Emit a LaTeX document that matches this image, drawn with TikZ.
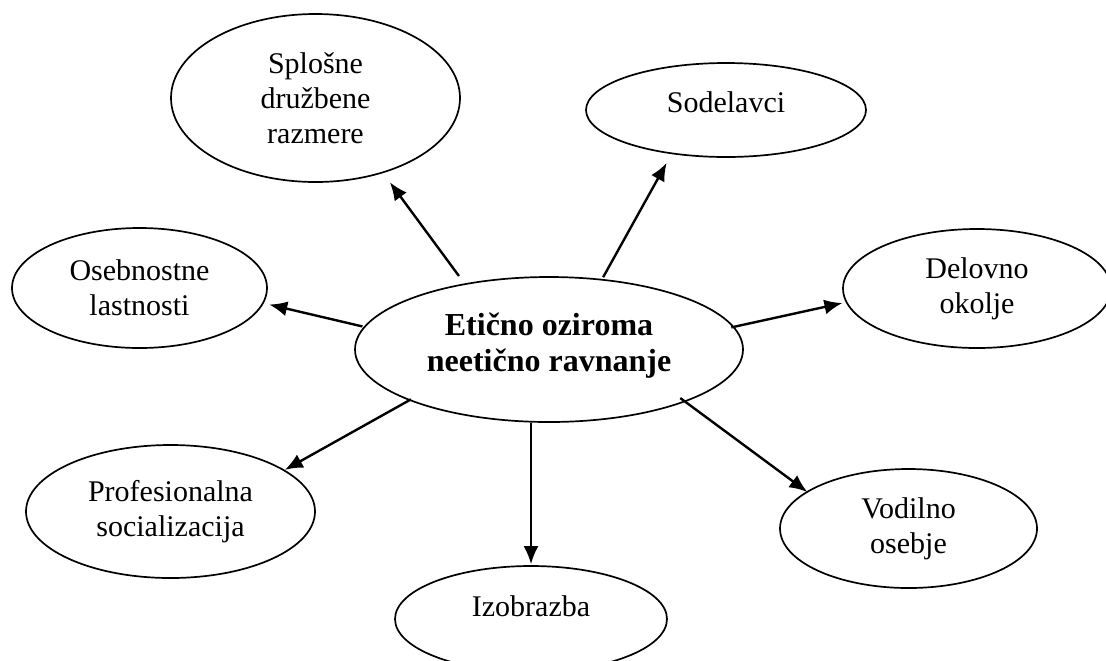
\documentclass[tikz,border=0pt]{standalone}
\usepackage{fontspec}
\setmainfont{Liberation Serif}
\usetikzlibrary{shapes.geometric,arrows.meta}
\begin{document}
\begin{tikzpicture}[x=0.5pt,y=-0.5pt,
  ell/.style={ellipse, draw, line width=0.85pt, inner sep=0pt, align=center,
    font=\fontsize{15}{17.5}\selectfont},
  arr/.style={line width=1.2pt, -{Latex[length=9pt,width=7.5pt]}}]
\useasboundingbox (0,0) rectangle (1106,660);
\clip (0,0) rectangle (1106,660);
\node[ell, minimum width=194pt, minimum height=72.5pt,
  font=\fontsize{16}{18}\selectfont\bfseries] (c) at (549,349.5)
  {\raisebox{2pt}[\height][\depth]{Etično oziroma}\\\raisebox{2pt}[\height][\depth]{neetično ravnanje}};
\node[ell, minimum width=144.5pt, minimum height=84pt] (s) at (315.5,98) {Splošne\\družbene\\razmere};
\node[ell, minimum width=140pt, minimum height=47pt] (so) at (726,110) {\raisebox{4pt}[\height][\depth]{Sodelavci}};
\node[ell, minimum width=127.5pt, minimum height=60pt] (o) at (139.5,288) {Osebnostne\\lastnosti};
\node[ell, minimum width=134pt, minimum height=59.5pt] (d) at (977,288.5) {Delovno\\okolje};
\node[ell, minimum width=144.5pt, minimum height=66.5pt] (p) at (170.5,511.5) {Profesionalna\\socializacija};
\node[ell, minimum width=128.5pt, minimum height=59.5pt] (v) at (908.5,528.5) {Vodilno\\osebje};
\node[ell, minimum width=136pt, minimum height=53pt] (i) at (531,619) {\raisebox{6.5pt}[\height][\depth]{Izobrazba}};
\draw[arr, shorten <=4.6pt, shorten >=5.7pt] (c.142.7) -- (s.-48.7);
\draw[arr, shorten <=1pt, shorten >=5pt] (c.53.3) -- (so.-141.3);
\draw[arr, shorten <=0.7pt, shorten >=2.8pt] (c.173.1) -- (o.-7.3);
\draw[arr, shorten <=-1.5pt, shorten >=1.7pt] (c.7.2) -- (d.-174.4);
\draw[arr, shorten <=-1.2pt] (c.-160.6) -- (p.20.2);
\draw[arr, shorten >=0.5pt] (c.south -| i.north) -- (i.north);
\draw[arr, shorten <=-3.2pt, shorten >=-0.5pt] (c.-21.3) -- (v.160.6);
\end{tikzpicture}
\end{document}
